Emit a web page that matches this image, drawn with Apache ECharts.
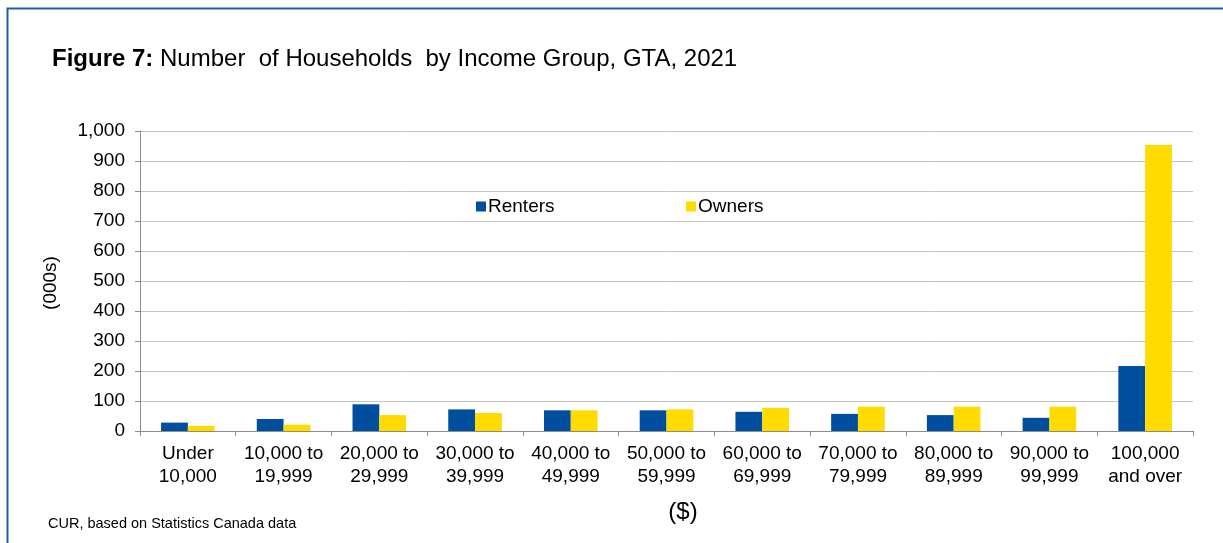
<!DOCTYPE html>
<html>
<head>
<meta charset="utf-8">
<script src="https://cdn.jsdelivr.net/npm/echarts@6/dist/echarts.min.js"></script>
<style>
  html, body { margin: 0; padding: 0; background: #ffffff; }
  #chart { width: 1223px; height: 543px; }
</style>
</head>
<body>
<div id="chart"></div>
<script>
// Household income groups, GTA 2021 (thousands of households)
const categories = [
  'Under\n10,000', '10,000 to\n19,999', '20,000 to\n29,999', '30,000 to\n39,999',
  '40,000 to\n49,999', '50,000 to\n59,999', '60,000 to\n69,999', '70,000 to\n79,999',
  '80,000 to\n89,999', '90,000 to\n99,999', '100,000\nand over'
];
const renters = [28, 40, 89, 72, 69, 69, 64, 57, 53, 44, 217];
const owners  = [17, 21, 53, 60, 69, 72, 77, 81, 81, 81, 953];
const yTicks = { min: 0, max: 1000, interval: 100 };

const FONT = '"Liberation Sans", Arial, sans-serif';
const BLUE = '#004f9e';
const YELLOW = '#ffdb00';

const chart = echarts.init(document.getElementById('chart'), null, { renderer: 'canvas' });

const legendText = { fontFamily: FONT, fontSize: 19, color: '#000', padding: [0, 0, 0, -3] };

chart.setOption({
  backgroundColor: '#ffffff',
  animation: false,
  textStyle: { fontFamily: FONT, color: '#000' },
  grid: { left: 140, right: 30, top: 131, bottom: 112, containLabel: false },
  legend: [
    {
      data: ['Renters'], left: 471, top: 192, icon: 'rect',
      itemWidth: 10, itemHeight: 10, itemGap: 3, textStyle: legendText
    },
    {
      data: ['Owners'], left: 681, top: 192, icon: 'rect',
      itemWidth: 10, itemHeight: 10, itemGap: 3, textStyle: legendText
    }
  ],
  xAxis: {
    type: 'category',
    data: categories,
    axisLine: { lineStyle: { color: '#8c8c8c', width: 1 } },
    axisTick: { show: true, length: 5, lineStyle: { color: '#8c8c8c' } },
    axisLabel: {
      fontFamily: FONT, fontSize: 19, color: '#000', interval: 0,
      margin: 11, lineHeight: 23, align: 'center'
    },
    splitLine: { show: false }
  },
  yAxis: {
    type: 'value',
    min: yTicks.min, max: yTicks.max, interval: yTicks.interval,
    axisLine: { show: true, lineStyle: { color: '#8c8c8c', width: 1 } },
    axisTick: { show: true, length: 5, lineStyle: { color: '#8c8c8c' } },
    axisLabel: {
      fontFamily: FONT, fontSize: 19, color: '#000', margin: 15,
      formatter: v => v.toLocaleString('en-US')
    },
    splitLine: { show: true, lineStyle: { color: '#c4c4c4', width: 1 } }
  },
  series: [
    {
      name: 'Renters', type: 'bar', data: renters,
      itemStyle: { color: BLUE },
      barGap: '0%', barCategoryGap: '44%'
    },
    {
      name: 'Owners', type: 'bar', data: owners,
      itemStyle: { color: YELLOW },
      barGap: '0%', barCategoryGap: '44%'
    }
  ],
  graphic: [
    {
      type: 'rect', silent: true, z: 100,
      shape: { x: 7.5, y: 8.5, width: 1240, height: 560 },
      style: { fill: null, stroke: '#1f5fae', lineWidth: 2 }
    },
    {
      type: 'text', left: 52, top: 47,
      style: {
        rich: {
          b: { fontFamily: FONT, fontSize: 24, fontWeight: 'bold', fill: '#000' },
          n: { fontFamily: FONT, fontSize: 24, fill: '#000' }
        },
        text: '{b|Figure 7:}{n| Number  of Households  by Income Group, GTA, 2021}'
      }
    },
    {
      type: 'text', x: 51, y: 283, rotation: Math.PI / 2,
      style: {
        text: '(000s)', fontFamily: FONT, fontSize: 19, fill: '#000',
        align: 'center', verticalAlign: 'middle'
      }
    },
    {
      type: 'text', x: 683, y: 512,
      style: {
        text: '($)', fontFamily: FONT, fontSize: 24, fill: '#000',
        align: 'center', verticalAlign: 'middle'
      }
    },
    {
      type: 'text', left: 48, top: 516,
      style: {
        text: 'CUR, based on Statistics Canada data', fontFamily: FONT,
        fontSize: 14.5, fill: '#000'
      }
    }
  ]
});
</script>
</body>
</html>
